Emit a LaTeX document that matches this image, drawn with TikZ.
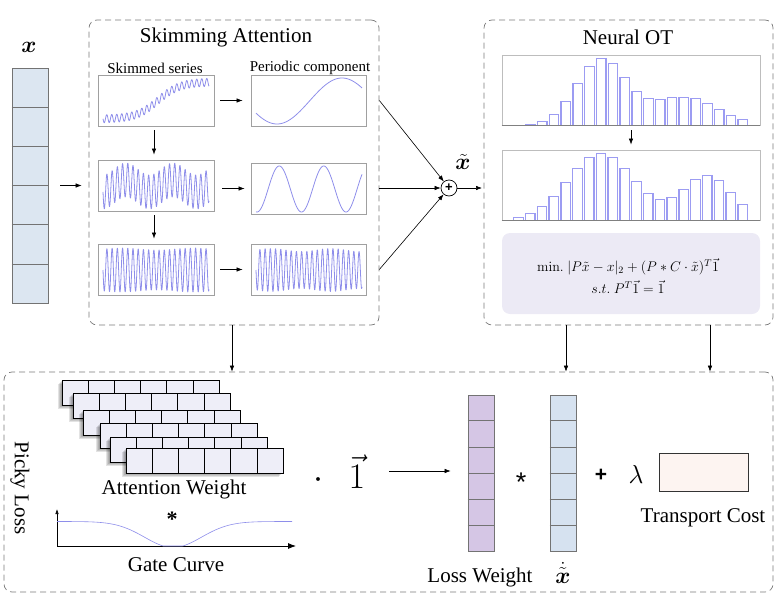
\documentclass[tikz,border=0pt]{standalone}
\usepackage{fix-cm}
\usepackage{amsmath}
\usepackage{bm}
\usepackage[no-math]{fontspec}
\setmainfont{Liberation Serif}
\setsansfont{Liberation Sans}
\usetikzlibrary{arrows.meta,calc}
\definecolor{sigc}{HTML}{8E8EEA}
\definecolor{barc}{HTML}{9C9CF2}
\definecolor{frameg}{HTML}{A0A0A0}
\definecolor{dashg}{HTML}{7A7A7A}
\definecolor{xfill}{HTML}{DCE6F1}
\definecolor{lwfill}{HTML}{D5C6E5}
\definecolor{xdfill}{HTML}{D6E2F0}
\definecolor{tcfill}{HTML}{FDF4F1}
\definecolor{formfill}{HTML}{ECEAF5}
\definecolor{attfill}{HTML}{EEEEF8}
\tikzset{
  big/.style={font=\fontsize{21}{25}\selectfont, inner sep=0pt},
  small/.style={font=\fontsize{15}{18}\selectfont, inner sep=0pt},
  dashbox/.style={draw=dashg, dash pattern=on 6pt off 4pt, rounded corners=8pt, line width=0.7pt, inner sep=0pt},
  arr/.style={-{Latex[length=6pt,width=4.5pt]}, line width=0.6pt},
  plotbox/.style={draw=frameg, line width=0.9pt, minimum width=116pt, minimum height=51pt, inner sep=0pt},
  histbox/.style={draw=frameg!70, line width=0.9pt, minimum width=258pt, minimum height=70pt, inner sep=0pt},
  sig/.style={draw=sigc, line width=0.8pt, line join=round},
  vecbox/.style={draw=black!55, line width=0.7pt, minimum width=26pt, minimum height=156pt, inner sep=0pt},
  cellline/.style={draw=black!55, line width=0.7pt},
  attbox/.style={draw=black, fill=attfill, line width=0.7pt},
}
\begin{document}
\begin{tikzpicture}[x=1pt,y=-1pt]
\useasboundingbox (0,0) rectangle (784,605);

% ---------- input vector x ----------
\node[vecbox, fill=xfill, minimum width=36pt, minimum height=235pt] (xv) at (30,185.5) {};
\node[font=\fontsize{23}{26}\selectfont, inner sep=0pt] (xlab) at (29,47) {$\bm{x}$};

% ---------- Skimming attention ----------
\node[dashbox, minimum width=290pt, minimum height=305pt] (sa) at (234,172.5) {};
\node[big] (satitle) at (226,37) {Skimming Attention};
\node[small] (sser) at (155,68) {Skimmed series};
\node[small] (pcomp) at (310,68) {Periodic component};

\node[plotbox] (s1) at (156,100.5) {};
\node[plotbox] (s2) at (156,185.5) {};
\node[plotbox] (s3) at (156,269.5) {};
\node[plotbox, minimum width=115pt] (p1) at (308.5,100.5) {};
\node[plotbox, minimum width=115pt] (p2) at (308.5,188.5) {};
\node[plotbox, minimum width=115pt] (p3) at (308.5,269.5) {};

% signals
\draw[sig] plot[domain=103:209, samples=420] (\x, {119 - 37/(1+exp(-(\x-158)/11)) + 4*sin(72*(\x-103))});
\draw[sig] plot[domain=103:209, samples=500] (\x, {186 - 6*cos(7.66*(\x-126)) + 17*sin(69*(\x-103))});
\draw[sig] plot[domain=103:209, samples=500] (\x, {270 + (21+1*sin(5*(\x-103)))*sin(69*(\x-103))});
\draw[sig] plot[domain=256:362, samples=150] (\x, {101 + 23*cos(2.77*(\x-277))});
\draw[sig] plot[domain=256:362, samples=200] (\x, {189 + 23*cos(8.09*(\x-257))});
\draw[sig] plot[domain=256:362, samples=500] (\x, {270 + (20+1.5*sin(6*(\x-256)))*sin(69*(\x-256))});

% arrows inside skimming attention
\draw[arr, shorten <=6pt, shorten >=8pt] (s1.east) -- (p1.west);
\draw[arr, shorten <=8pt, shorten >=6pt] (s2.east |- p2.west) -- (p2.west);
\draw[arr, shorten <=6pt, shorten >=8pt] (s3.east) -- (p3.west);
\draw[arr, shorten <=4pt, shorten >=5pt] (s1.south -| 154,0) -- (s2.north -| 154,0);
\draw[arr, shorten <=4pt, shorten >=5pt] (s2.south -| 154,0) -- (s3.north -| 154,0);

% input arrow
\draw[arr, shorten <=12pt, shorten >=7pt] (xv.east) -- (sa.west |- xv.east);

% ---------- sum ----------
\node[circle, draw, line width=0.7pt, minimum size=16pt, inner sep=0pt, font=\sffamily\bfseries\fontsize{13}{13}\selectfont] (plus) at (449,188) {+};
\node[font=\fontsize{23}{26}\selectfont, inner sep=0pt] (xtl) at (463,162) {$\tilde{\bm{x}}$};
\draw[arr] (sa.east |- p1) -- (plus);
\draw[arr] (sa.east |- plus) -- (plus);
\draw[arr] (sa.east |- p3) -- (plus);
\draw[arr, shorten >=2pt] (plus.east) -- (484,188) coordinate (otin);

% ---------- Neural OT ----------
\node[dashbox, minimum width=289pt, minimum height=305pt] (ot) at (628.5,172.5) {};
\node[big] (ottitle) at (628,37) {Neural OT};
\node[histbox] (h1) at (631,90) {};
\node[histbox] (h2) at (631,185) {};
\foreach \h [count=\i from 0] in {1,4,11,24,42,59,67,62,48,34,27,26,28,28,27,22,16,10,6}{
  \fill[barc] ({525+\i*11.8},125) rectangle ++(10.8,-\h);
  \ifnum\h>2 \fill[white] ({526.3+\i*11.8},125) rectangle ++(8.2,{-\h+1.3}); \fi
}
\foreach \h [count=\i from 0] in {3,7,14,24,38,52,63,67,63,52,39,27,21,23,31,41,45,40,28,16}{
  \fill[barc] ({513+\i*11.8},220) rectangle ++(10.8,-\h);
  \ifnum\h>2 \fill[white] ({514.3+\i*11.8},220) rectangle ++(8.2,{-\h+1.3}); \fi
}
\draw[frameg!80!black, line width=0.9pt] (h1.south west) -- (h1.south east);
\draw[frameg!80!black, line width=0.9pt] (h2.south west) -- (h2.south east);
\draw[arr, shorten <=5pt, shorten >=5pt] (h1.south) -- (h2.north);

\node[fill=formfill, rounded corners=8pt, minimum width=258pt, minimum height=81pt, inner sep=0pt] (form) at (631,273.5) {};
\node[font=\fontsize{14}{22}\selectfont, align=center, inner sep=0pt] (formtxt) at (628,276)
  {$\mathrm{min.}\ |P\tilde{x}-x|_2+(P*C\cdot\tilde{x})^T\vec{1}$\\ $s.t.\ P^T\vec{1}=\vec{1}$};

% ---------- Picky loss ----------
\node[dashbox, minimum width=769pt, minimum height=220pt] (pl) at (388.5,482) {};
\draw[arr] (sa.south -| 232,0) -- (pl.north -| 232,0);
\coordinate (o1) at (566,325);
\coordinate (o2) at (710,325);
\draw[arr] (o1) -- (o1 |- pl.north);
\draw[arr] (o2) -- (o2 |- pl.north);

\node[big, rotate=-90] (plk) at (20,488) {Picky Loss};

% attention weight stacks
\foreach \ax/\ay in {62/380,73/393,83/410,100/423,110/437,126/448}{
  \foreach \s in {1,...,4}
    \fill[black, opacity=0.11] (\ax-\s*0.9,\ay+\s*0.9) rectangle ++(157,25);
  \draw[attbox] (\ax,\ay) rectangle ++(157,25);
  \foreach \c in {1,...,5}
    \draw[line width=0.7pt] ({\ax+\c*26.17},\ay) -- ++(0,25);
}
\node[big] (attw) at (174,489) {Attention Weight};
\node[font=\bfseries\fontsize{22}{22}\selectfont] (star1) at (172,519) {*};

% gate curve
\coordinate (gorig) at (57,546);
\draw[-{Latex[length=5pt,width=3.5pt]}, line width=0.6pt] (gorig) -- (57,509);
\draw[-{Latex[length=8pt,width=6pt]}, line width=0.8pt] (gorig) -- (296,546);
\draw[sig, line width=0.6pt] plot[domain=57:292, samples=200] (\x, {min(546, 521.5 + 26*exp(-((\x-173)/40)^2))});
\node[big] (gate) at (176,565) {Gate Curve};

% dot one
\node[font=\fontsize{36}{40}\selectfont, inner sep=0pt, anchor=base] (dotop) at (318,488) {$\cdot$};
\node[font=\fontsize{36}{40}\selectfont, inner sep=0pt, anchor=base] (onevec) at (357,488) {$\vec{1}$};

% loss weight and x-dot vectors
\node[vecbox, fill=lwfill] (lw) at (481,473) {};
\node[vecbox, fill=xdfill] (xd) at (563,473) {};
\foreach \v in {xv,lw,xd}{
  \foreach \i in {1,...,5}
    \draw[cellline] ($(\v.north west)!\i/6!(\v.south west)$) -- ($(\v.north east)!\i/6!(\v.south east)$);
}
\coordinate (arrS) at (389,471);
\draw[arr, shorten >=17pt] (arrS) -- (lw.west |- arrS);
\node[big] (lwl) at (480,577) {Loss Weight};
\node[font=\fontsize{23}{26}\selectfont, inner sep=0pt] (xdl) at (563,573) {$\dot{\tilde{\bm{x}}}$};
\node[font=\sffamily\fontsize{27}{27}\selectfont] (star2) at (521,482) {*};
\node[font=\sffamily\bfseries\fontsize{21}{21}\selectfont] (plus2) at (601,475) {+};
\node[font=\fontsize{26}{28}\selectfont] (lam) at (636,474) {$\lambda$};

% transport cost
\node[draw=black!80, fill=tcfill, line width=0.9pt, minimum width=89pt, minimum height=38pt, inner sep=0pt] (tc) at (703.5,472) {};
\node[big] (tcl) at (703,518) {Transport Cost};
\end{tikzpicture}
\end{document}
